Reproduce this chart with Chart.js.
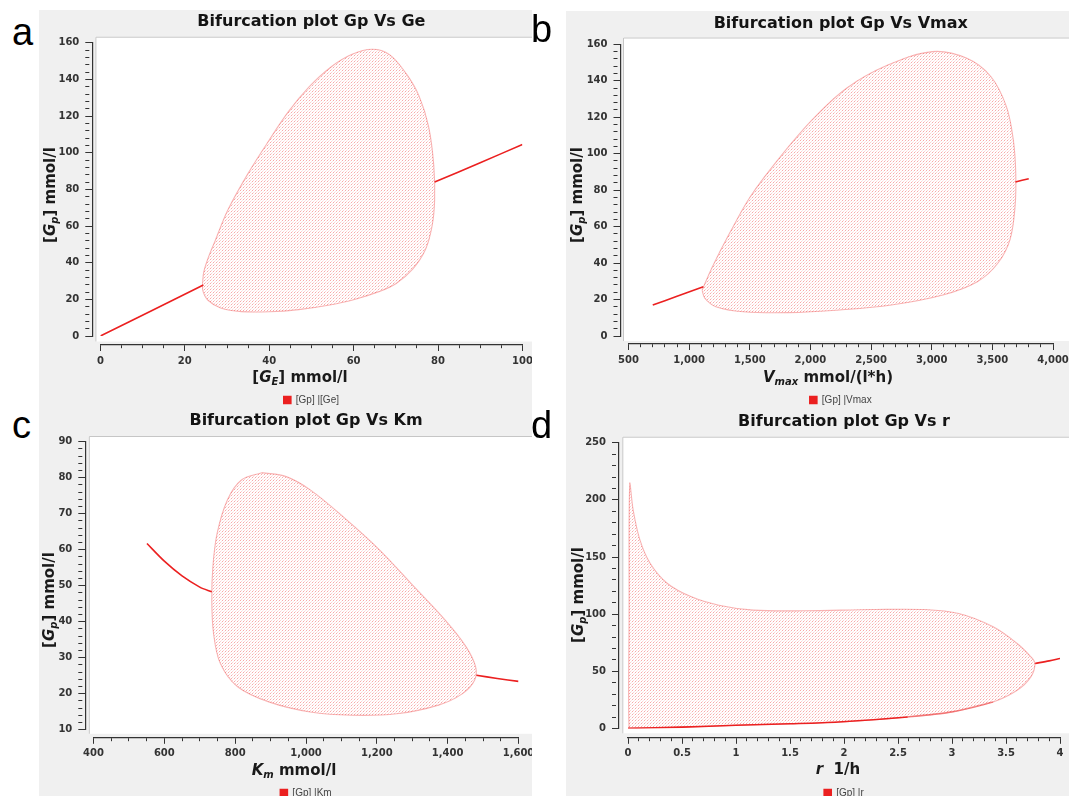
<!DOCTYPE html>
<html><head><meta charset="utf-8">
<script src="https://cdn.jsdelivr.net/npm/chart.js@4.4.1/dist/chart.umd.min.js"></script>
<style>
html,body{margin:0;padding:0;background:#fff;}
body{width:1069px;height:796px;overflow:hidden;position:relative;}
.panel{position:absolute;background:#f0f0f0;}
.panel canvas{position:absolute;left:0;top:0;}
.letter{position:absolute;font-family:'Liberation Sans',Arial,sans-serif;font-size:38px;line-height:38px;color:#000;}
.axt{position:absolute;font-family:'DejaVu Sans',sans-serif;font-weight:bold;font-size:15px;line-height:18px;color:#1a1a1a;white-space:nowrap;}
.axt sub{font-size:10px;font-style:italic;line-height:0;vertical-align:-3px;}
</style></head>
<body>
<script>
// ---------------- DATA ----------------
// Panel a : Gp vs Ge
const aStableLowGe  = [0, 12, 24.4];
const aStableLowGp  = [0, 13.6, 27.8];
const aStableHighGe = [79.2, 90, 100];
const aStableHighGp = [84, 94.5, 104.5];
const aCycleGe = [24.2, 24.5, 25.6, 27.2, 30.2, 35.0, 39.9, 44.6, 49.5, 54.5, 59.5, 64.4, 68.5, 72.5, 75.5, 77.8, 79.0, 79.2, 78.6, 77.0, 74.0, 70.0, 66.0, 60.0, 54.0, 47.0, 40.0, 33.4, 28.5, 25.5, 24.3, 24.2];
const aCycleGp = [28.7, 35.0, 43.0, 52.0, 68.7, 88.7, 106.5, 122.5, 136.0, 146.5, 153.5, 156.4, 153.5, 143.0, 131.0, 114.0, 93.0, 74.0, 60.0, 47.0, 36.5, 28.5, 24.2, 19.8, 16.8, 14.4, 13.2, 13.3, 15.3, 19.5, 24.5, 28.7];
const aXTicks = [0, 20, 40, 60, 80, 100];
const aYTicks = [0, 20, 40, 60, 80, 100, 120, 140, 160];

// Panel b : Gp vs Vmax
const bStableLowV  = [700, 900, 1117];
const bStableLowGp = [17, 21.8, 27];
const bStableHighV  = [3690, 3800];
const bStableHighGp = [84.5, 86.3];
const bCycleV  = [1107, 1192, 1333, 1504, 1730, 2014, 2298, 2638, 3007, 3290, 3489, 3616, 3673, 3693, 3687, 3645, 3545, 3376, 3092, 2667, 2241, 1816, 1447, 1221, 1129, 1107];
const bCycleGp = [25.2, 38.0, 56.3, 76.4, 96.5, 118.5, 135.9, 148.6, 156, 152.3, 142.2, 125.8, 107.5, 89.2, 70.9, 52.7, 39.9, 29.8, 22.5, 17, 14.3, 12.8, 13.3, 16.1, 20.7, 25.2];
const bXTicks = [500, 1000, 1500, 2000, 2500, 3000, 3500, 4000];
const bYTicks = [0, 20, 40, 60, 80, 100, 120, 140, 160];

// Panel c : Gp vs Km
const cStableLowKm  = [551, 600, 650, 700, 734];
const cStableLowGp  = [61.7, 56.8, 52.7, 49.6, 48.3];
const cStableHighKm = [1481, 1540, 1600];
const cStableHighGp = [25.1, 24.2, 23.4];
const cCycleKm = [875, 817, 778, 749, 737, 734, 739, 758, 807, 895, 1012, 1129, 1256, 1374, 1442, 1476, 1479, 1452, 1393, 1305, 1208, 1110, 1012, 944, 875];
const cCycleGp = [81.4, 79.3, 73.8, 64.5, 55.2, 46.0, 36.7, 28.4, 21.9, 17.7, 14.9, 14.0, 14.4, 16.8, 20.0, 23.7, 27.4, 33.0, 40.4, 49.7, 59.9, 68.7, 76.6, 80.3, 81.4];
const cXTicks = [400, 600, 800, 1000, 1200, 1400, 1600];
const cYTicks = [10, 20, 30, 40, 50, 60, 70, 80, 90];

// Panel d : Gp vs r
const dLowerEdgeR  = [0, 0.5, 1.0, 1.5, 1.95, 2.59, 3.0, 3.38];
const dLowerEdgeGp = [0.2, 1.3, 2.9, 4.2, 5.8, 10.2, 14.6, 23.3];
const dStableHighR  = [3.77, 3.9, 4.0];
const dStableHighGp = [57, 59.2, 61.3];
const dCycleR  = [0.01, 0.016, 0.048, 0.111, 0.206, 0.365, 0.587, 0.841, 1.159, 1.635, 2.27, 2.746, 3.063, 3.381, 3.603, 3.73, 3.768, 3.73, 3.603, 3.381, 3.0, 2.587, 1.952, 1.0, 0.5, 0.01, 0.01];
const dCycleGp = [100, 214, 191, 164.8, 144.4, 126.9, 115.2, 107.9, 103.6, 103, 104.1, 104.1, 100.6, 89, 74.4, 62.7, 56.9, 45.2, 33.5, 23.3, 14.6, 10.2, 5.8, 2.9, 1.3, 0.2, 100];
const dXTicks = [0, 0.5, 1, 1.5, 2, 2.5, 3, 3.5, 4];
const dYTicks = [0, 50, 100, 150, 200, 250];

// ---------------- HELPERS ----------------
const pts = (xs, ys) => xs.map((x, i) => ({x: x, y: ys[i]}));
const RED = 'rgb(235,32,32)';

function dotPattern() {
  const c = document.createElement('canvas'); c.width = 3; c.height = 3;
  const g = c.getContext('2d');
  g.fillStyle = 'rgba(236,50,50,0.42)'; g.fillRect(0, 0, 1, 1);
  g.fillStyle = 'rgba(236,50,50,0.22)'; g.fillRect(1, 2, 1, 1);
  g.fillStyle = 'rgba(236,50,50,0.12)'; g.fillRect(2, 1, 1, 1);
  return g.createPattern(c, 'repeat');
}
const PATTERN = dotPattern();

function stableSet(label, xs, ys, fade) {
  const ds = {label: label, data: pts(xs, ys), showLine: true, borderColor: RED, backgroundColor: RED,
          borderWidth: 1.6, pointRadius: 0, tension: 0.3, fill: false, xAxisID: 'x', yAxisID: 'y'};
  if (fade) {
    ds.segment = {borderColor: ctx => ctx.p0.parsed.x >= fade ? 'rgba(235,40,40,0.45)' : RED};
  }
  return ds;
}
function cycleSet(xs, ys) {
  return {label: 'cycle', data: pts(xs, ys), showLine: true, borderColor: 'rgba(236,60,60,0.38)',
          backgroundColor: PATTERN, borderWidth: 1.1, pointRadius: 0, tension: 0.35, fill: 'shape',
          xAxisID: 'x', yAxisID: 'y'};
}

function isMajor(v, arr, step) { return arr.some(t => Math.abs(t - v) < step * 1e-3); }
function fmt(v) { return Number(v.toFixed(3)).toLocaleString('en-US'); }

const plotBg = {
  id: 'plotBg',
  beforeDraw(chart, args, o) {
    const ca = chart.chartArea, ctx = chart.ctx;
    const l = ca.left - o.dl, t = ca.top - o.dt, r = ca.right + o.dr, b = ca.bottom + o.db;
    ctx.save();
    ctx.fillStyle = '#ffffff';
    ctx.fillRect(l, t, r - l, b - t);
    ctx.strokeStyle = '#c6c6c6'; ctx.lineWidth = 1;
    ctx.beginPath(); ctx.moveTo(l + 0.5, b); ctx.lineTo(l + 0.5, t + 0.5); ctx.lineTo(r, t + 0.5); ctx.stroke();
    ctx.restore();
  }
};

// ---------------- PANELS ----------------
const panels = [
  {ox: 39, oy: 10, W: 493, PH: 395, x0px: 100.4, x1px: 522.4, ytop: 42.7, ybot: 336, yAxisX: 92.3, xAxisY: 345,
   titleY: 21.7, legendY: 400, white: {l: 95.4, t: 36.7, r: 532, b: 341.5},
   title: 'Bifurcation plot Gp Vs Ge', legend: '[Gp] |[Ge]',
   xMin: 0, xMax: 100, xStep: 5, xMajor: aXTicks, yMin: 0, yMax: 160, yStep: 4, yMajor: aYTicks,
   datasets: [stableSet('[Gp] |[Ge]', aStableLowGe, aStableLowGp), stableSet('hi', aStableHighGe, aStableHighGp), cycleSet(aCycleGe, aCycleGp)]},
  {ox: 566, oy: 11, W: 503, PH: 394, x0px: 628.5, x1px: 1053, ytop: 44.3, ybot: 336, yAxisX: 620.5, xAxisY: 344,
   titleY: 24, legendY: 400, white: {l: 623, t: 37.5, r: 1069, b: 341},
   title: 'Bifurcation plot Gp Vs Vmax', legend: '[Gp] |Vmax',
   xMin: 500, xMax: 4000, xStep: 100, xMajor: bXTicks, yMin: 0, yMax: 160, yStep: 4, yMajor: bYTicks,
   datasets: [stableSet('[Gp] |Vmax', bStableLowV, bStableLowGp), stableSet('hi', bStableHighV, bStableHighGp), cycleSet(bCycleV, bCycleGp)]},
  {ox: 39, oy: 405, W: 493, PH: 400, x0px: 93.5, x1px: 518.5, ytop: 441.7, ybot: 729.3, yAxisX: 85.3, xAxisY: 737.5,
   titleY: 420.7, legendY: 792.7, white: {l: 88.8, t: 436, r: 532, b: 733.5},
   title: 'Bifurcation plot Gp Vs Km', legend: '[Gp] |Km',
   xMin: 400, xMax: 1600, xStep: 50, xMajor: cXTicks, yMin: 10, yMax: 90, yStep: 2, yMajor: cYTicks,
   datasets: [stableSet('[Gp] |Km', cStableLowKm, cStableLowGp), stableSet('hi', cStableHighKm, cStableHighGp), cycleSet(cCycleKm, cCycleGp)]},
  {ox: 566, oy: 405, W: 503, PH: 400, x0px: 628, x1px: 1060, ytop: 442.7, ybot: 728.3, yAxisX: 619, xAxisY: 737.5,
   titleY: 421.7, legendY: 792.7, white: {l: 622.3, t: 436.7, r: 1069, b: 733},
   title: 'Bifurcation plot Gp Vs r', legend: '[Gp] |r',
   xMin: 0, xMax: 4, xStep: 0.1, xMajor: dXTicks, yMin: 0, yMax: 250, yStep: 10, yMajor: dYTicks,
   datasets: [stableSet('[Gp] |r', dLowerEdgeR, dLowerEdgeGp, 2.2), stableSet('hi', dStableHighR, dStableHighGp), cycleSet(dCycleR, dCycleGp)]}
];

const TICKFONT = {family: 'DejaVu Sans', size: 10, weight: 'bold', lineHeight: 1.2};

panels.forEach(P => {
  const div = document.createElement('div');
  div.className = 'panel';
  div.style.left = P.ox + 'px'; div.style.top = P.oy + 'px';
  div.style.width = P.W + 'px'; div.style.height = P.PH + 'px';
  document.body.appendChild(div);

  const caL = P.x0px - P.ox, caR = P.x1px - P.ox, caT = P.ytop - P.oy, caB = P.ybot - P.oy;
  const yAxisLocal = P.yAxisX - P.ox;
  const spacerY = caL - yAxisLocal;
  const spacerX = P.xAxisY - P.ybot;
  const tLH = 16 * 1.2;
  const tPadTop = (P.titleY - P.oy) - tLH / 2;
  const tPadBot = caT - tPadTop - tLH;
  const legTop = P.legendY - P.oy - 9;
  const xH = legTop - (caB + spacerX);
  const H = Math.round(legTop + 24);

  const cv = document.createElement('canvas');
  cv.width = P.W; cv.height = H;
  cv.style.width = P.W + 'px'; cv.style.height = H + 'px';
  div.appendChild(cv);

  const chart = new Chart(cv, {
    type: 'scatter',
    data: {datasets: P.datasets},
    options: {
      responsive: false, animation: false, devicePixelRatio: 1,
      events: [],
      layout: {padding: {left: 0, right: P.W - caR, top: 0, bottom: 0}},
      plugins: {
        title: {display: true, text: P.title, fullSize: false, color: '#141414',
                font: {family: 'DejaVu Sans', weight: 'bold', size: 16, lineHeight: 1.2},
                padding: {top: tPadTop, bottom: tPadBot}},
        legend: {display: true, position: 'bottom', fullSize: false,
                 labels: {boxWidth: 7, boxHeight: 7, padding: 4, color: '#444',
                          font: {family: 'Liberation Sans', size: 10},
                          filter: item => item.datasetIndex === 0}},
        tooltip: {enabled: false},
        plotBg: {dl: caL - (P.white.l - P.ox), dt: caT - (P.white.t - P.oy),
                 dr: (P.white.r - P.ox) - caR, db: (P.white.b - P.oy) - caB}
      },
      scales: {
        x: {type: 'linear', position: 'bottom', weight: 1, min: P.xMin, max: P.xMax,
            ticks: {stepSize: P.xStep, autoSkip: false, maxRotation: 0, minRotation: 0, padding: 4,
                    color: '#333', font: TICKFONT,
                    callback: v => isMajor(v, P.xMajor, P.xStep) ? fmt(v) : ''},
            grid: {display: true, drawOnChartArea: false, drawTicks: true, tickLength: 6, tickColor: '#333', tickWidth: 1,
                   tickBorderDash: ctx => (ctx.tick && isMajor(ctx.tick.value, P.xMajor, P.xStep)) ? [] : [3, 60]},
            border: {display: true, color: '#333', width: 1.2},
            afterFit: s => { s.height = xH; s.paddingLeft = 0; s.paddingRight = 0; }},
        xs: {type: 'linear', position: 'bottom', weight: 0, display: true,
             grid: {display: false}, ticks: {display: false}, border: {display: false},
             afterFit: s => { s.height = spacerX; s.paddingLeft = 0; s.paddingRight = 0; }},
        y: {type: 'linear', position: 'left', weight: 1, min: P.yMin, max: P.yMax,
            ticks: {stepSize: P.yStep, autoSkip: false, padding: 6, color: '#333', font: TICKFONT,
                    callback: v => isMajor(v, P.yMajor, P.yStep) ? fmt(v) : ''},
            grid: {display: true, drawOnChartArea: false, drawTicks: true, tickLength: 7, tickColor: '#333', tickWidth: 1,
                   tickBorderDash: ctx => (ctx.tick && isMajor(ctx.tick.value, P.yMajor, P.yStep)) ? [] : [4, 60]},
            border: {display: true, color: '#333', width: 1.2},
            afterFit: s => { s.width = yAxisLocal; s.paddingTop = 0; s.paddingBottom = 0; }},
        ys: {type: 'linear', position: 'left', weight: 0, display: true,
             grid: {display: false}, ticks: {display: false}, border: {display: false},
             afterFit: s => { s.width = spacerY; s.paddingTop = 0; s.paddingBottom = 0; }}
      }
    },
    plugins: [plotBg]
  });

  // correct any small layout drift so the plotting area lands where the reference has it
  const ca = chart.chartArea;
  const pad = chart.options.layout.padding;
  const dT = caT - ca.top, dB = ca.bottom - caB, dL = caL - ca.left, dR = ca.right - caR;
  if (Math.abs(dT) > 0.3 || Math.abs(dB) > 0.3 || Math.abs(dL) > 0.3 || Math.abs(dR) > 0.3) {
    pad.top = (pad.top || 0) + dT; pad.bottom = (pad.bottom || 0) + dB;
    pad.left = (pad.left || 0) + dL; pad.right = (pad.right || 0) + dR;
    chart.update();
  }
});

// ---------------- TEXT OVERLAYS ----------------
function addText(cls, html, x, y, rot) {
  const d = document.createElement('div');
  d.className = cls; d.innerHTML = html;
  d.style.left = x + 'px'; d.style.top = y + 'px';
  d.style.transform = 'translate(-50%,-50%)' + (rot ? ' rotate(-90deg)' : '');
  document.body.appendChild(d);
}
function addLetter(ch, x, y) {
  const d = document.createElement('div');
  d.className = 'letter'; d.textContent = ch;
  d.style.left = x + 'px'; d.style.top = y + 'px';
  document.body.appendChild(d);
}
addLetter('a', 12, 13); addLetter('b', 531, 10); addLetter('c', 12, 406); addLetter('d', 531, 406);
const yTitle = '[<i>G<sub>p</sub></i>] mmol/l';
addText('axt', '[<i>G<sub>E</sub></i>] mmol/l', 300, 377, false);
addText('axt', yTitle, 50, 195, true);
addText('axt', '<i>V<sub>max</sub></i> mmol/(l*h)', 828, 377, false);
addText('axt', yTitle, 577, 195, true);
addText('axt', '<i>K<sub>m</sub></i> mmol/l', 294, 770, false);
addText('axt', yTitle, 49, 600, true);
addText('axt', '<i>r</i>&nbsp;&nbsp;1/h', 838, 769, false);
addText('axt', yTitle, 578, 595, true);
</script>
</body></html>
